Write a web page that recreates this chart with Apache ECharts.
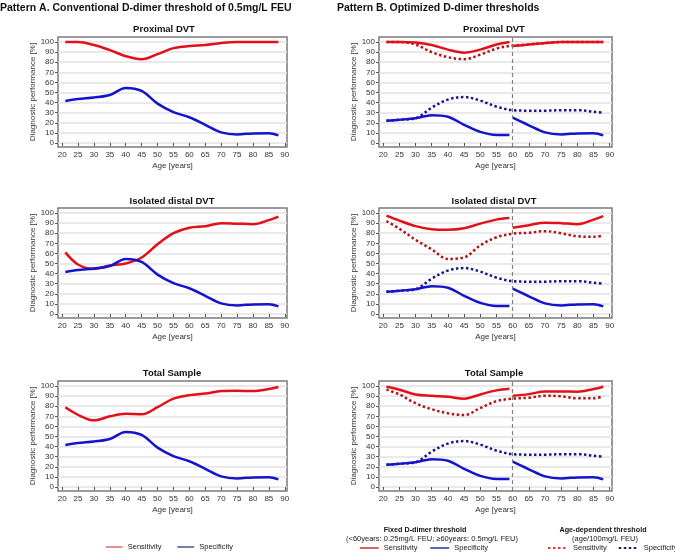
<!DOCTYPE html>
<html>
<head>
<meta charset="utf-8">
<script src="https://cdn.jsdelivr.net/npm/echarts@6/dist/echarts.min.js"></script>
<style>html,body{margin:0;padding:0;background:#fff}#c{width:675px;height:554px}</style>
</head>
<body>
<div id="c"></div>
<script>
// ---- data ----
const ages = [21,25,30,35,40,45,50,55,60,65,70,75,80,85,88];
const agesLow = [21,25,30,35,40,45,50,55,59];
const agesHigh = [60,65,70,75,80,85,88];
const xTicks = [20,25,30,35,40,45,50,55,60,65,70,75,80,85,90];
const yTicks = [0,10,20,30,40,50,60,70,80,90,100];
const panelTitles = ['Proximal DVT','Isolated distal DVT','Total Sample'];

// Pattern A (conventional threshold)
const specA = [41.5,43.5,45,47.5,54.5,51.5,39,30.5,25.5,18,10.5,8.5,9.5,9.7,7.5];
const sensA_prox = [100,100,97,92,86,83,88,94,96,97,99,100,100,100,100];
const sensA_dist = [61,49,44.5,48,50,56,69,80,85.5,87,90,89.5,89,93,96.5];
const sensA_total = [79,71.5,66,70,72.5,72,79,87.5,91,92.5,95,95.3,95,97,99];

// Pattern B fixed threshold (split at 60 years)
const specB_low = [22,23,24.5,27.5,26,18,11,8,8];
const specB_high = [25,17.5,10.5,8.5,9.5,9.7,7.5];
const sensB_prox_low = [100,100,99.5,97,92.5,89.5,92.5,97.5,100];
const sensB_prox_high = [96,97.5,99,100,100,100,100];
const sensB_dist_low = [97.5,92.5,87,84,83.5,85,89.5,93.5,95];
const sensB_dist_high = [85.5,88,90.5,90,89,93.5,97];
const sensB_total_low = [99.3,96.4,91.7,90.4,89.4,87.5,91.7,95.7,97.4];
const sensB_total_high = [90.4,92,94.7,94.7,94.4,97,99.3];

// Pattern B age-dependent threshold
const specAge = [22,23,24.5,35,43,45.5,42,36,32.5,32,32,32.5,32.5,31,30];
const sensAge_prox = [100,100,97.5,90,85,83,87.5,93.5,96.5,97.5,99,100,100,100,100];
const sensAge_dist = [92,84.5,73.5,64,54.5,56,68,76,79.5,80.5,82,80,77,76.5,77.5];
const sensAge_total = [96.4,91.7,83,77,73,71.3,78.2,85,87.5,88.4,90.4,89.8,87.8,87.8,90];

// ---- styling ----
const RED = '#e3101a', BLUE = '#1414cc', DRED = '#b41414', DBLUE = '#14148c';
const FONT = 'Liberation Sans, Arial, sans-serif';
const AX = 8;
const zip = (xs, ys) => xs.map((x, i) => [x, ys[i]]);

const colLeft = [58, 379], colWidth = [229, 233];
const rowTop = [37, 208, 381], rowH = 110;

const grids = [], xAxes = [], yAxes = [], series = [];
let gi = 0;
const panelIndex = {};
for (let c = 0; c < 2; c++) {
  for (let r = 0; r < 3; r++) {
    grids.push({left: colLeft[c], top: rowTop[r], width: colWidth[c], height: rowH,
      show: true, borderColor: '#7a7a7a', borderWidth: 1.5, backgroundColor: '#fff', containLabel: false});
    xAxes.push({type: 'value', gridIndex: gi, min: 18.7, max: 90.7,
      name: 'Age [years]', nameLocation: 'middle', nameGap: 15,
      nameTextStyle: {fontFamily: FONT, fontSize: AX, color: '#333'},
      axisLine: {show: false},
      axisTick: {show: true, length: 3, customValues: xTicks, lineStyle: {color: '#555', width: 1}},
      axisLabel: {customValues: xTicks, fontFamily: FONT, fontSize: AX, color: '#333', margin: 4},
      splitLine: {show: false}});
    yAxes.push({type: 'value', gridIndex: gi, min: -4, max: 105,
      name: 'Diagnostic performance [%]', nameLocation: 'middle', nameGap: 19, nameRotate: 90,
      nameTextStyle: {fontFamily: FONT, fontSize: AX, color: '#333'},
      axisLine: {show: false},
      axisTick: {show: true, length: 3, customValues: yTicks, lineStyle: {color: '#555', width: 1}},
      axisLabel: {customValues: yTicks, fontFamily: FONT, fontSize: AX, color: '#333', margin: 4},
      splitLine: {show: true, lineStyle: {color: '#e2e2e2', width: 1.5}}});
    panelIndex[c + '_' + r] = gi;
    gi++;
  }
}

function line(name, idx, data, color, dotted, extra) {
  const s = {name, type: 'line', xAxisIndex: idx, yAxisIndex: idx, data, smooth: 0.35,
    symbol: 'none', showSymbol: false, z: 3,
    lineStyle: {color, width: 2.5, type: dotted ? [2.5, 2.5] : 'solid'},
    itemStyle: {color}};
  return Object.assign(s, extra || {});
}

const sensA = [sensA_prox, sensA_dist, sensA_total];
const sensBlow = [sensB_prox_low, sensB_dist_low, sensB_total_low];
const sensBhigh = [sensB_prox_high, sensB_dist_high, sensB_total_high];
const sensAge = [sensAge_prox, sensAge_dist, sensAge_total];

for (let r = 0; r < 3; r++) {
  const a = panelIndex['0_' + r], b = panelIndex['1_' + r];
  series.push(line('Sensitivity', a, zip(ages, sensA[r]), RED, false));
  series.push(line('Specificity', a, zip(ages, specA), BLUE, false));
  series.push(line('Sensitivity ', b, zip(ages, sensAge[r]), DRED, true));
  series.push(line('Specificity ', b, zip(ages, specAge), DBLUE, true));
  series.push(line('Sensitivity', b, zip(agesLow, sensBlow[r]), RED, false, {
    markLine: {silent: true, symbol: 'none', label: {show: false},
      lineStyle: {color: '#808080', type: [4, 3], width: 1.2},
      data: [{xAxis: 60}]}}));
  series.push(line('Sensitivity', b, zip(agesHigh, sensBhigh[r]), RED, false));
  series.push(line('Specificity', b, zip(agesLow, specB_low), BLUE, false));
  series.push(line('Specificity', b, zip(agesHigh, specB_high), BLUE, false));
}

const titleCenters = [[164, 172, 172], [494, 494, 494]];
const titleY = [29, 201, 373];
const graphics = [
  {type: 'text', x: 0, y: 8, style: {text: 'Pattern A. Conventional D-dimer threshold of 0.5mg/L FEU', font: 'bold 10.5px ' + FONT, fill: '#111', textVerticalAlign: 'middle'}},
  {type: 'text', x: 337, y: 8, style: {text: 'Pattern B. Optimized D-dimer thresholds', font: 'bold 10.5px ' + FONT, fill: '#111', textVerticalAlign: 'middle'}},
  {type: 'text', x: 425, y: 530, style: {text: 'Fixed D-dimer threshold', font: 'bold 7.2px ' + FONT, fill: '#111', textAlign: 'center', textVerticalAlign: 'middle'}},
  {type: 'text', x: 432, y: 539, style: {text: '(<60years: 0.25mg/L FEU; \u226560years: 0.5mg/L FEU)', font: '7.5px ' + FONT, fill: '#222', textAlign: 'center', textVerticalAlign: 'middle'}},
  {type: 'text', x: 603, y: 530, style: {text: 'Age-dependent threshold', font: 'bold 7.2px ' + FONT, fill: '#111', textAlign: 'center', textVerticalAlign: 'middle'}},
  {type: 'text', x: 605, y: 539, style: {text: '(age/100mg/L FEU)', font: '7.5px ' + FONT, fill: '#222', textAlign: 'center', textVerticalAlign: 'middle'}}
];
for (let c = 0; c < 2; c++) for (let r = 0; r < 3; r++) {
  graphics.push({type: 'text', x: titleCenters[c][r], y: titleY[r],
    style: {text: panelTitles[r], font: 'bold 9.5px ' + FONT, fill: '#111', textAlign: 'center', textVerticalAlign: 'middle'}});
}

const legendText = {fontFamily: FONT, fontSize: 7.5, color: '#222'};
const hideSym = {opacity: 0, borderWidth: 0};
const option = {
  animation: false,
  backgroundColor: '#fff',
  grid: grids, xAxis: xAxes, yAxis: yAxes, series,
  graphic: graphics,
  legend: [
    {data: [{name: 'Sensitivity', lineStyle: {color: '#e06a6a', width: 1.5}},
            {name: 'Specificity', lineStyle: {color: '#4a5590', width: 1.5}}],
      left: 105, top: 543, itemWidth: 17, itemHeight: 8, itemGap: 15, padding: 0,
      itemStyle: hideSym, textStyle: legendText, selectedMode: false},
    {data: [{name: 'Sensitivity', lineStyle: {color: '#d32f2f', width: 1.5}},
            {name: 'Specificity', lineStyle: {color: '#283593', width: 1.5}}],
      left: 359, top: 544, itemWidth: 19, itemHeight: 8, itemGap: 12, padding: 0,
      itemStyle: hideSym, textStyle: legendText, selectedMode: false},
    {data: [{name: 'Sensitivity ', lineStyle: {color: '#e03c3c', width: 2}},
            {name: 'Specificity ', lineStyle: {color: '#1c1c80', width: 2}}],
      left: 547, top: 544, width: 200, itemWidth: 20, itemHeight: 8, itemGap: 11, padding: 0,
      itemStyle: hideSym, textStyle: legendText, selectedMode: false, formatter: n => n.trim()}
  ]
};
const chart = echarts.init(document.getElementById('c'), null, {renderer: 'canvas'});
chart.setOption(option);
</script>
</body>
</html>
